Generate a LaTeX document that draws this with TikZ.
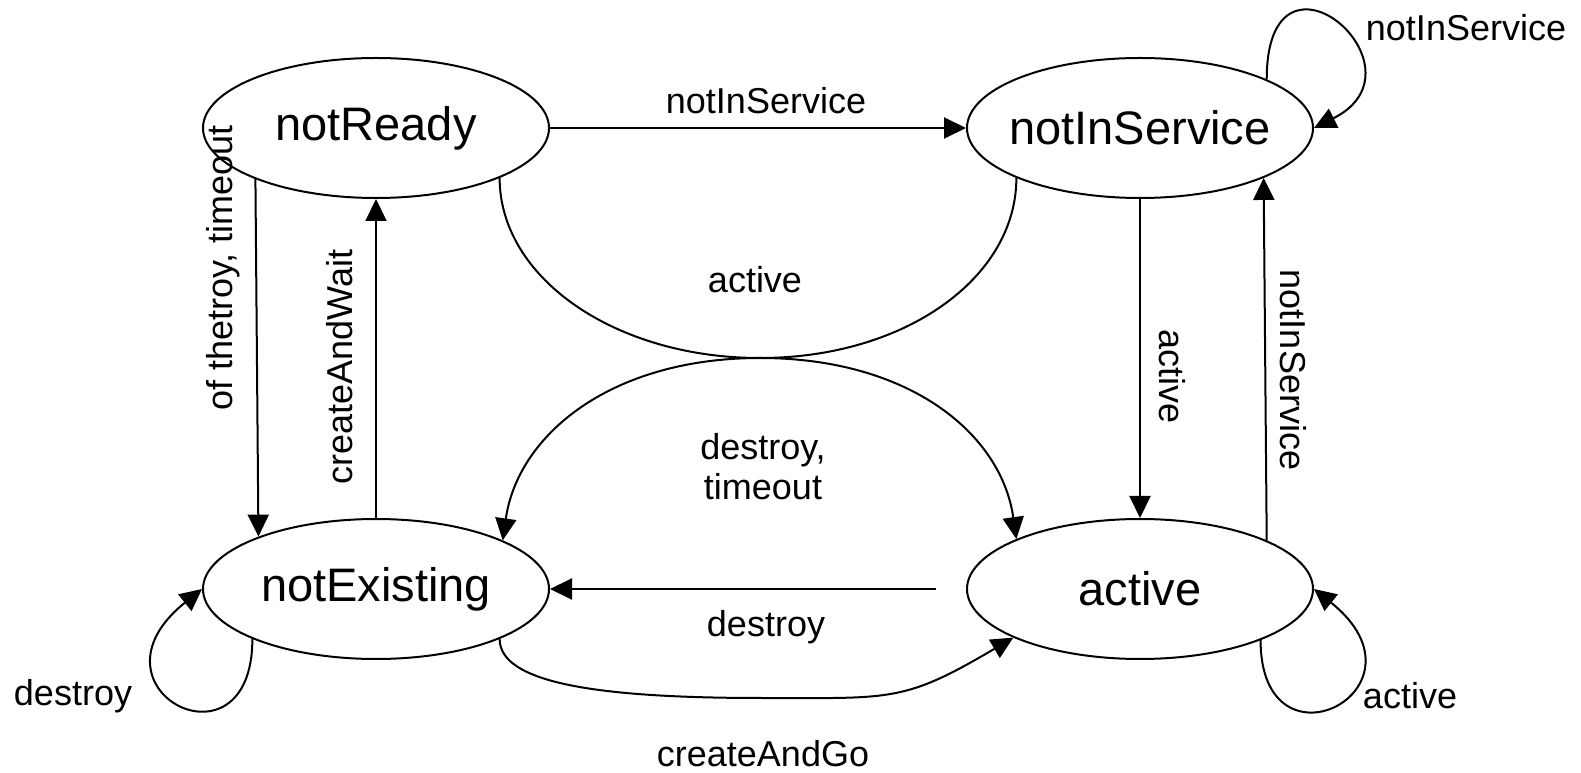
\documentclass[tikz,border=0pt]{standalone}
\usepackage{fontspec}
\setmainfont{Liberation Sans}
\usetikzlibrary{arrows.meta,shapes.geometric}
\newcommand{\statefont}{\fontsize{23.5}{26}\selectfont}
\newcommand{\edgefont}{\fontsize{18}{20}\selectfont}
\tikzset{
  statenode/.style={ellipse,draw,line width=1pt,minimum width=173pt,minimum height=70pt,inner xsep=-8pt,inner ysep=0pt,font=\statefont},
  transarrow/.style={-{Triangle[length=11pt,width=10.5pt]},line width=1pt},
  plainarc/.style={line width=1pt},
  edgelbl/.style={inner sep=0pt,font=\edgefont,align=center},
}

\begin{document}
\begin{tikzpicture}[x=0.5pt,y=0.5pt]
  \useasboundingbox (0,0) rectangle (1581,772);
  % states
  \node[statenode] (nReady) at (376,644) {notReady};
  \node[statenode] (nServ) at (1140,644) {notInService};
  \node[statenode] (nExist) at (376,183) {notExisting};
  \node[statenode] (nActive) at (1140,183) {active};
  \coordinate (mTop) at (760,414);
  \coordinate (mBot) at (762,74);
  \coordinate (dStart) at (936,183);
  % straight transitions
  \draw[transarrow] (nReady) -- (nServ);
  \draw[transarrow] (nReady.203.2) -- (nExist.156.8);
  \draw[transarrow] (nExist) -- (nReady);
  \draw[transarrow] (nServ) -- (nActive);
  \draw[transarrow] (nActive.21.8) -- (nServ.338.2);
  \draw[transarrow] (dStart) -- (nExist);
  % curved transitions
  \draw[plainarc] (nReady.338) .. controls +(0,-100) and +(-145,0) .. (mTop)
    .. controls +(145,0) and +(0,-100) .. (nServ.202);
  \draw[transarrow] (mTop) .. controls +(-150,0) and +(15,105) .. (nExist.21.8);
  \draw[transarrow] (mTop) .. controls +(150,0) and +(-15,105) .. (nActive.158.2);
  \draw[transarrow] (nExist.338.2) .. controls +(0,-45) and +(-160,0) .. (mBot)
    .. controls +(130,0) and +(-110,-65) .. (nActive.201.8);
  % self loops
  \draw[transarrow] (nExist.202.5) .. controls +(0,-140) and +(-125,-100) .. (nExist.west);
  \draw[transarrow] (nActive.337.5) .. controls +(0,-140) and +(125,-100) .. (nActive.east);
  \draw[transarrow] (nServ.21.8) .. controls +(0,155) and +(120,60) .. (nServ.east);
  % labels
  \node[edgelbl] (lServTop) at (766,671) {notInService};
  \node[edgelbl,rotate=90] (lDestTime) at (223,504) {of thetroy, timeout};
  \node[edgelbl,rotate=90] (lWait) at (340,405) {createAndWait};
  \node[edgelbl,rotate=-90] (lActDown) at (1172,395) {active};
  \node[edgelbl,rotate=-90] (lServUp) at (1293,402) {notInService};
  \node[edgelbl] (lActMid) at (755,492) {active};
  \node[edgelbl] (lDestTimeMid) at (763,305) {destroy,\\timeout};
  \node[edgelbl] (lDest) at (766,145) {destroy};
  \node[edgelbl] (lGo) at (763,18) {createAndGo};
  \node[edgelbl] (lDestLoop) at (73,76) {destroy};
  \node[edgelbl] (lActLoop) at (1410,76) {active};
  \node[edgelbl] (lServLoop) at (1466,744) {notInService};
\end{tikzpicture}
\end{document}
